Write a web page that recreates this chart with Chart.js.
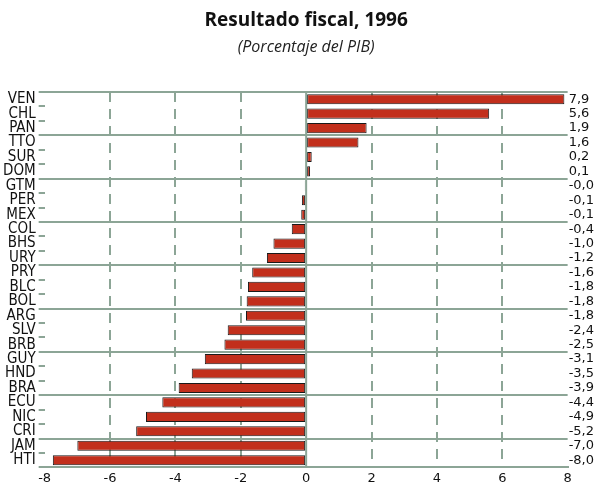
<!DOCTYPE html>
<html lang="es">
<head>
  <meta charset="UTF-8">
  <title>Resultado fiscal, 1996</title>
  <script src="https://cdn.jsdelivr.net/npm/chart.js"></script>
  <style>
    html, body { margin: 0; padding: 0; background: #fff; overflow: hidden; }
    #chart-wrap { width: 595px; height: 483px; }
  </style>
</head>
<body>
  <div id="chart-wrap">
    <canvas id="fiscalChart" width="595" height="483"></canvas>
  </div>

  <script>
    // Data
    const countries = ['VEN', 'CHL', 'PAN', 'TTO', 'SUR', 'DOM', 'GTM', 'PER', 'MEX', 'COL', 'BHS', 'URY', 'PRY',
      'BLC', 'BOL', 'ARG', 'SLV', 'BRB', 'GUY', 'HND', 'BRA', 'ECU', 'NIC', 'CRI', 'JAM', 'HTI'];
    const balance = [7.9, 5.6, 1.85, 1.6, 0.17, 0.12, -0.04, -0.13, -0.15, -0.44, -1.0, -1.2, -1.65,
      -1.78, -1.82, -1.84, -2.4, -2.5, -3.1, -3.5, -3.9, -4.4, -4.9, -5.2, -7.0, -7.75];
    const valueLabels = ['7,9', '5,6', '1,9', '1,6', '0,2', '0,1', '-0,0', '-0,1', '-0,1', '-0,4', '-1,0', '-1,2', '-1,6',
      '-1,8', '-1,8', '-1,8', '-2,4', '-2,5', '-3,1', '-3,5', '-3,9', '-4,4', '-4,9', '-5,2', '-7,0', '-8,0'];
    const xMin = -8;
    const xMax = 8;
    const xStep = 2;

    const GRID = '#8ca596';
    const BAR = '#c22f1c';

    // solid line at zero, the other vertical grid lines are dashed
    const zeroLine = {
      id: 'zeroLine',
      beforeDatasetsDraw(chart) {
        const { ctx, chartArea, scales } = chart;
        const x = scales.x.getPixelForValue(0);
        ctx.save();
        ctx.strokeStyle = GRID;
        ctx.lineWidth = 2;
        ctx.beginPath();
        ctx.moveTo(x, chartArea.top);
        ctx.lineTo(x, chartArea.bottom);
        ctx.stroke();
        ctx.restore();
      }
    };

    new Chart(document.querySelector('#fiscalChart'), {
      type: 'bar',
      data: {
        labels: countries,
        datasets: [{
          data: balance,
          backgroundColor: BAR,
          borderColor: '#1a1a1a',
          borderWidth: 1,
          borderSkipped: false,
          barPercentage: 0.7,
          categoryPercentage: 1,
        }],
      },
      options: {
        indexAxis: 'y',
        responsive: false,
        animation: false,
        devicePixelRatio: 1,
        layout: { padding: { left: 0, right: 0, top: 0, bottom: -6 } },
        plugins: {
          legend: { display: false },
          tooltip: { enabled: false },
          title: {
            display: true,
            text: 'Resultado fiscal, 1996',
            fullSize: false,
            color: '#111',
            font: { family: 'Open Sans', size: 19, weight: 'bold' },
            padding: { top: 9, bottom: 6 },
          },
          subtitle: {
            display: true,
            text: '(Porcentaje del PIB)',
            fullSize: false,
            color: '#222',
            font: { family: 'Open Sans', size: 16, style: 'italic' },
            padding: { top: 0, bottom: 35 },
          },
        },
        scales: {
          x: {
            min: xMin,
            max: xMax,
            ticks: {
              stepSize: xStep,
              color: '#111',
              padding: 3,
              font: { family: 'DejaVu Sans', size: 13 },
            },
            grid: {
              drawTicks: false,
              lineWidth: 2,
              color: ctx => (ctx.tick && (ctx.tick.value === 0 || ctx.tick.value === xMin || ctx.tick.value === xMax))
                ? 'rgba(0,0,0,0)' : GRID,
            },
            border: { display: true, color: GRID, width: 2, dash: [10, 7] },
          },
          y: {
            offset: true,
            ticks: {
              autoSkip: false,
              color: '#111',
              padding: 3,
              font: { family: "'Liberation Sans Narrow', 'DejaVu Sans Condensed', sans-serif", size: 15 },
            },
            grid: {
              offset: true,
              lineWidth: 2,
              tickLength: 6,
              tickWidth: 2,
              tickColor: GRID,
              color: ctx => (ctx.index % 3 === 0 || ctx.index === countries.length) ? GRID : 'rgba(0,0,0,0)',
            },
            border: { display: false },
          },
          y2: {
            type: 'category',
            position: 'right',
            labels: valueLabels,
            offset: true,
            ticks: {
              autoSkip: false,
              color: '#111',
              padding: 1,
              font: { family: 'DejaVu Sans', size: 13 },
            },
            grid: { display: false, drawTicks: false },
            border: { display: false },
          },
        },
      },
      plugins: [zeroLine],
    });
  </script>
</body>
</html>
